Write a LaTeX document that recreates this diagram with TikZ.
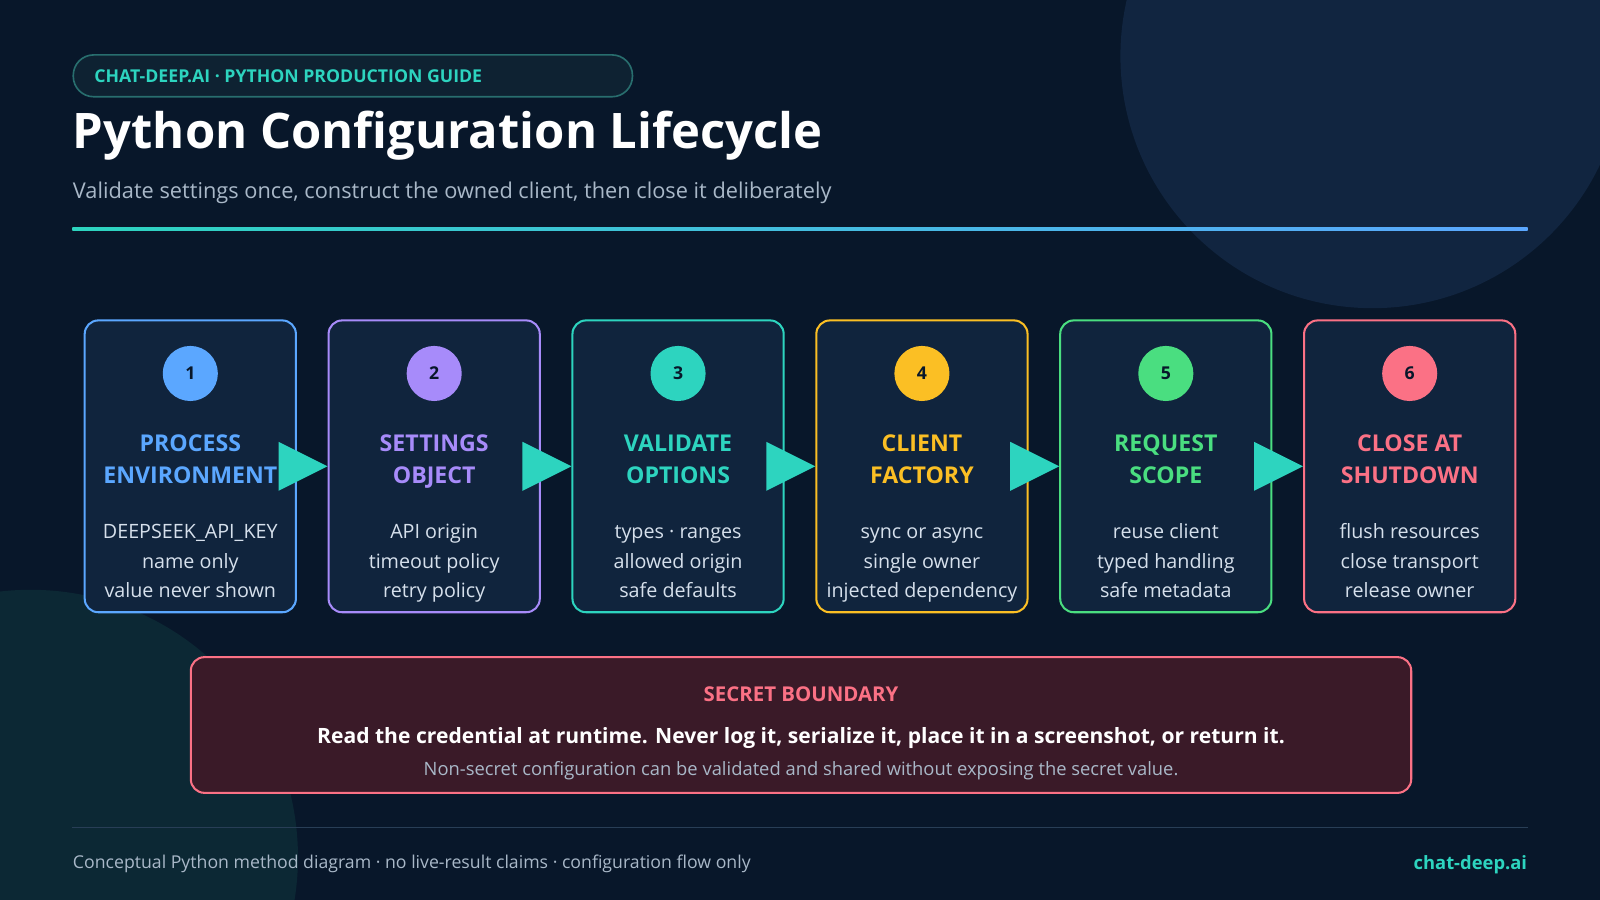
\documentclass[tikz,border=0pt]{standalone}
\usepackage{fontspec}
\setmainfont{Open Sans}
\usetikzlibrary{positioning}
\definecolor{bgc}{HTML}{08172A}
\definecolor{cardc}{HTML}{10243D}
\definecolor{cblue}{HTML}{5BA7FF}
\definecolor{cpurple}{HTML}{A78BFA}
\definecolor{cteal}{HTML}{2DD4BF}
\definecolor{cyellow}{HTML}{FBBF24}
\definecolor{cgreen}{HTML}{4ADE80}
\definecolor{cred}{HTML}{FB7185}
\definecolor{txtc}{HTML}{D6E0EC}
\definecolor{mutedc}{HTML}{A9B8C8}
\definecolor{rulec}{HTML}{283E56}
\def\u{0.75}
\tikzset{every picture/.style={line width=0.75pt},
  card/.style={draw, line width=1.5pt, fill=cardc, rounded corners=10pt, minimum width=207*\u, minimum height=286*\u},
  num/.style={circle, minimum size=54*\u, inner sep=0pt, text=bgc, font=\bfseries\fontsize{13}{13}\selectfont},
  head/.style={align=center, anchor=base, font=\bfseries\fontsize{17}{24}\selectfont},
  body/.style={align=center, anchor=base, text=txtc, font=\fontsize{14.5}{22}\selectfont}}
\begin{document}
\begin{tikzpicture}[x=0.75pt,y=0.75pt,yscale=-1,xscale=1]
        \useasboundingbox (0,0) rectangle (1568,882);
        \fill[bgc] (0,0) rectangle (1568,882);
        \begin{scope}
        \clip (0,0) rectangle (1568,882);
        \fill[fill={rgb,255:red,17;green,37;blue,64}] (1345,55) circle (247);
        \fill[fill={rgb,255:red,12;green,40;blue,52}] (30,840) circle (262);
        \end{scope}
        
        %header
        \node (tag) [draw={rgb,255:red,40;green,110;blue,110}, fill={rgb,255:red,14;green,34;blue,50}, rounded corners=15pt, minimum width=548*\u, minimum height=41*\u, anchor=north west, line width=1.2pt] at (71,53) {};
        \node [anchor=west, inner sep=0pt, text=cteal, font=\bfseries\fontsize{13}{13}\selectfont] at ([xshift=21*\u]tag.west) {CHAT-DEEP.AI · PYTHON PRODUCTION GUIDE};
        \node (title) [anchor=west, inner sep=0pt, text=white, font=\bfseries\fontsize{36}{36}\selectfont] at (71,133) {Python Configuration Lifecycle};
        \node (sub) [anchor=west, inner sep=0pt, text=mutedc, font=\fontsize{16}{16}\selectfont] at (71,189) {Validate settings once, construct the owned client, then close it deliberately};
        \shade[left color=cteal, right color=cblue] (71,223) rectangle (1497,226);
        
        %cards
        \foreach \i/\c/\h/\b in {1/cblue/{PROCESS\\ENVIRONMENT}/{DEEPSEEK\_API\_KEY\\name only\\value never shown},
            2/cpurple/{SETTINGS\\OBJECT}/{API origin\\timeout policy\\retry policy},
            3/cteal/{VALIDATE\\OPTIONS}/{types · ranges\\allowed origin\\safe defaults},
            4/cyellow/{CLIENT\\FACTORY}/{sync or async\\single owner\\injected dependency},
            5/cgreen/{REQUEST\\SCOPE}/{reuse client\\typed handling\\safe metadata},
            6/cred/{CLOSE AT\\SHUTDOWN}/{flush resources\\close transport\\release owner}} {
          \node (card\i) [card, draw=\c] at ({186.5+239*(\i-1)},457) {};
          \node (n\i) [num, fill=\c] at ([yshift=53*\u]card\i.north) {\i};
          \node (h\i) [head, text=\c] at ([yshift=161*\u]card\i.north) {\h};
          \node (b\i) [body] at ([yshift=273*\u]card\i.north) {\b};
        }
        %arrows
        \foreach \i in {1,...,5} {
          \fill[cteal] ([xshift=-18*\u,yshift=-24*\u]card\i.east) -- ([xshift=30*\u]card\i.east) -- ([xshift=-18*\u,yshift=24*\u]card\i.east) -- cycle;
        }
        
        %secret boundary
        \node (secret) [draw=cred, line width=1.5pt, fill={rgb,255:red,58;green,26;blue,40}, rounded corners=10pt, minimum width=1196*\u, minimum height=133*\u, anchor=north west] at (186,643) {};
        \node [text=cred, font=\bfseries\fontsize{15}{15}\selectfont] at ([yshift=37*\u]secret.north) {SECRET BOUNDARY};
        \node [text=white, font=\bfseries\fontsize{15.5}{15.5}\selectfont] at ([yshift=80*\u]secret.north) {Read the credential at runtime. Never log it, serialize it, place it in a screenshot, or return it.};
        \node [text=mutedc, font=\fontsize{13.5}{13.5}\selectfont] at ([yshift=112*\u]secret.north) {Non-secret configuration can be validated and shared without exposing the secret value.};
        
        %footer
        \draw[rulec, line width=1pt] (71,811) -- (1497,811);
        \node [anchor=west, inner sep=0pt, text=mutedc, font=\fontsize{13}{13}\selectfont] at (71,847) {Conceptual Python method diagram · no live-result claims · configuration flow only};
        \node [anchor=east, inner sep=0pt, text=cteal, font=\bfseries\fontsize{13.5}{13.5}\selectfont] at (1497,847) {chat-deep.ai};
\end{tikzpicture}
\end{document}
